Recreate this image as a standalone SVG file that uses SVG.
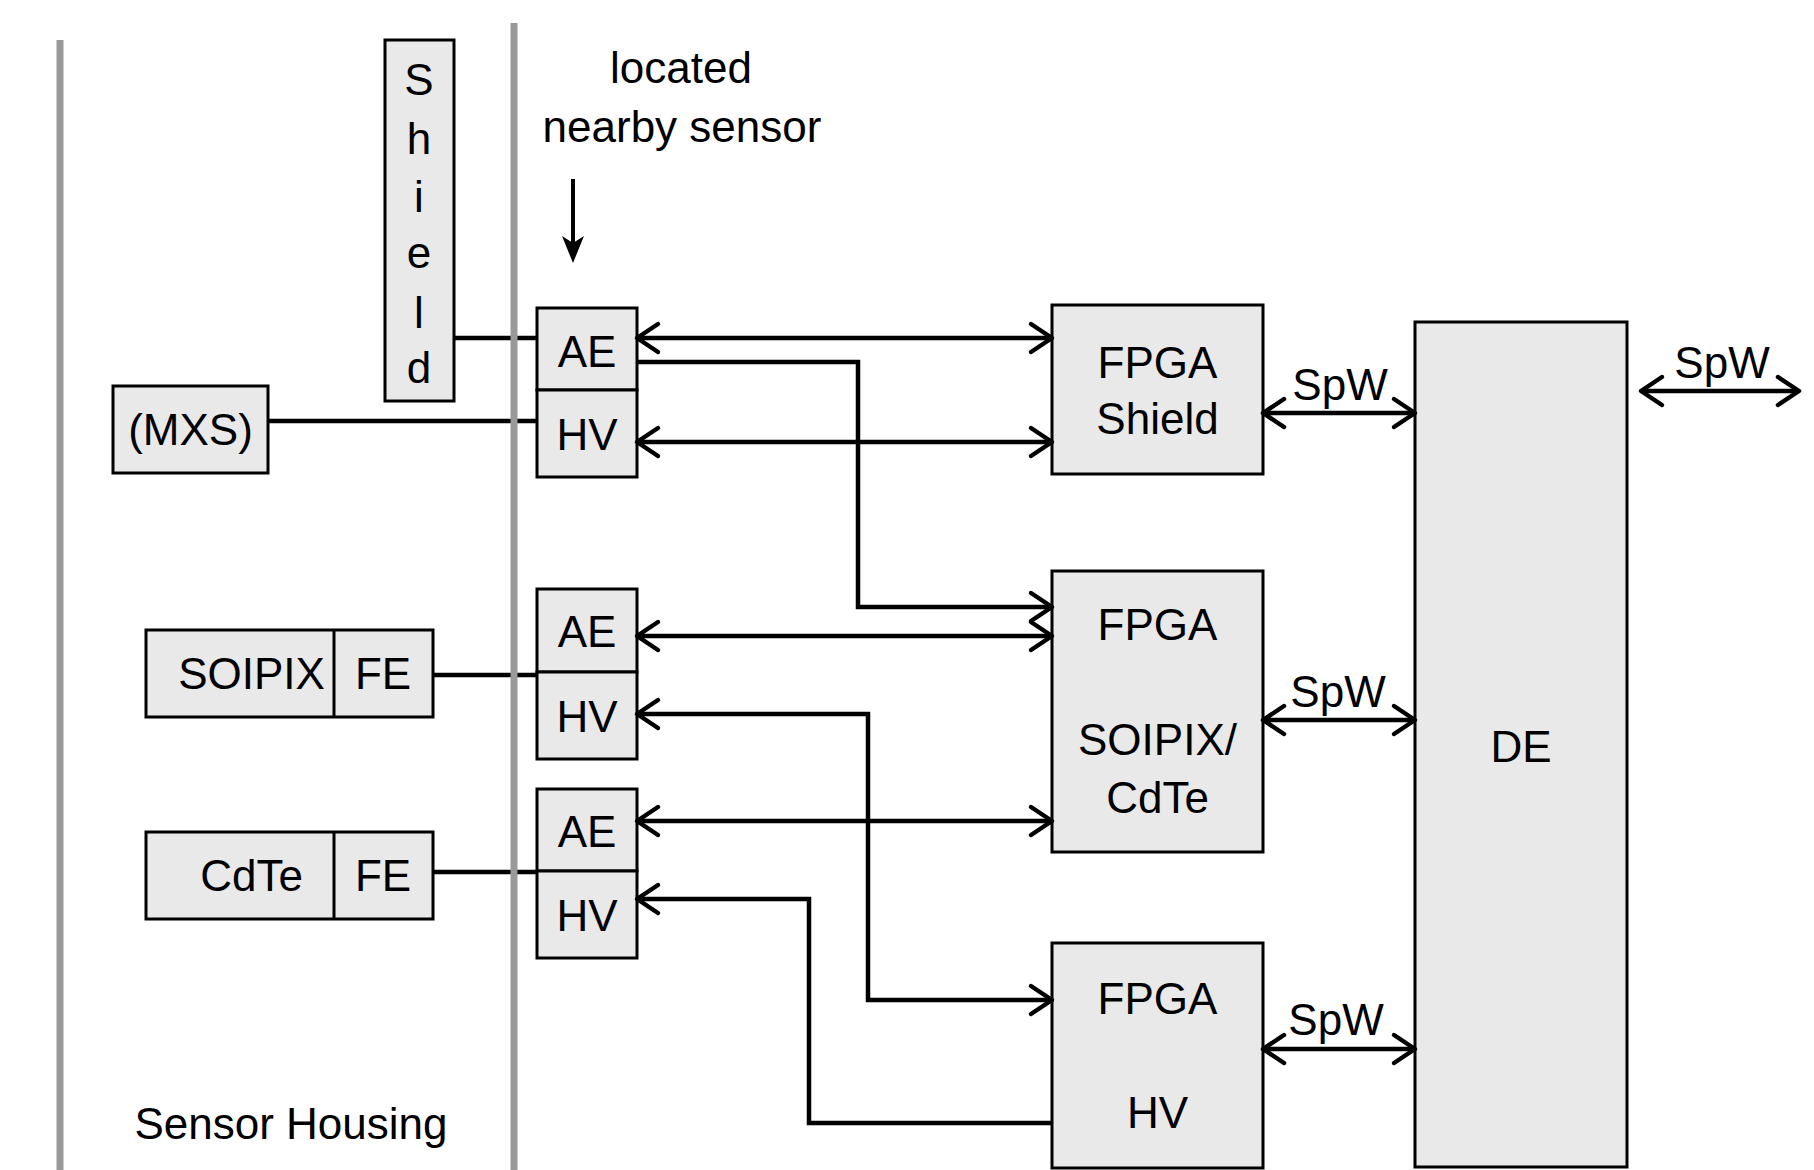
<svg xmlns="http://www.w3.org/2000/svg" width="1814" height="1170" viewBox="0 0 1814 1170">
<style>
.box{fill:#e9e9e9;stroke:#000;stroke-width:3}
.t{font-family:"Liberation Sans",Arial,sans-serif;font-size:44px;fill:#000;text-anchor:middle}
.c{fill:none;stroke:#000;stroke-width:4.5}
.h{fill:none;stroke:#999;stroke-width:7}
</style>
<defs>
<marker id="arr" markerUnits="userSpaceOnUse" viewBox="0 0 30 32" markerWidth="30" markerHeight="32" refX="24" refY="15" orient="auto-start-reverse" overflow="visible">
<path d="M3,1 L24,15 L3,29" fill="none" stroke="#000" stroke-width="4.5" stroke-linecap="round" stroke-linejoin="round"/>
</marker>
</defs>
<rect width="1814" height="1170" fill="#fff"/>

<g id="shield">
<rect class="box" x="385" y="40" width="69" height="361"/>
<text class="t" x="419" y="95">S</text>
<text class="t" x="419" y="154">h</text>
<text class="t" x="419" y="212">i</text>
<text class="t" x="419" y="268">e</text>
<text class="t" x="419" y="328">l</text>
<text class="t" x="419" y="383">d</text>
</g>
<g id="mxs">
<rect class="box" x="113" y="386" width="155" height="87"/>
<text class="t" x="190.5" y="445">(MXS)</text>
</g>
<g id="soipix-fe">
<rect class="box" x="146" y="630" width="287" height="87"/>
<line x1="334" y1="630" x2="334" y2="717" stroke="#000" stroke-width="3"/>
<text class="t" x="251.5" y="689">SOIPIX</text>
<text class="t" x="383" y="689">FE</text>
</g>
<g id="cdte-fe">
<rect class="box" x="146" y="832" width="287" height="87"/>
<line x1="334" y1="832" x2="334" y2="919" stroke="#000" stroke-width="3"/>
<text class="t" x="251.5" y="891">CdTe</text>
<text class="t" x="383" y="891">FE</text>
</g>
<g id="ae1">
<rect class="box" x="537" y="308" width="100" height="82"/>
<text class="t" x="587" y="367">AE</text>
</g>
<g id="hv1">
<rect class="box" x="537" y="390" width="100" height="87"/>
<text class="t" x="587" y="450">HV</text>
</g>
<g id="ae2">
<rect class="box" x="537" y="589" width="100" height="83"/>
<text class="t" x="587" y="647">AE</text>
</g>
<g id="hv2">
<rect class="box" x="537" y="672" width="100" height="87"/>
<text class="t" x="587" y="732">HV</text>
</g>
<g id="ae3">
<rect class="box" x="537" y="789" width="100" height="82"/>
<text class="t" x="587" y="847">AE</text>
</g>
<g id="hv3">
<rect class="box" x="537" y="871" width="100" height="87"/>
<text class="t" x="587" y="931">HV</text>
</g>
<g id="fpga-shield">
<rect class="box" x="1052" y="305" width="211" height="169"/>
<text class="t" x="1157.5" y="378">FPGA</text>
<text class="t" x="1157.5" y="434">Shield</text>
</g>
<g id="fpga-soipix-cdte">
<rect class="box" x="1052" y="571" width="211" height="281"/>
<text class="t" x="1157.5" y="640">FPGA</text>
<text class="t" x="1157.5" y="755">SOIPIX/</text>
<text class="t" x="1157.5" y="813">CdTe</text>
</g>
<g id="fpga-hv">
<rect class="box" x="1052" y="943" width="211" height="225"/>
<text class="t" x="1157.5" y="1014">FPGA</text>
<text class="t" x="1157.5" y="1128">HV</text>
</g>
<g id="de">
<rect class="box" x="1415" y="322" width="212" height="845"/>
<text class="t" x="1521" y="762">DE</text>
</g>
<g id="note">
<text class="t" x="681" y="83">located</text>
<text class="t" x="682" y="142">nearby sensor</text>
<line x1="573" y1="179" x2="573" y2="245" stroke="#000" stroke-width="4"/>
<polygon points="562,236 573,263 584,236 573,243" fill="#000"/>
</g>
<g id="label-housing">
<text class="t" x="291" y="1139">Sensor Housing</text>
</g>

<g id="connectors">
<path class="c" d="M454,338 H537"/>
<path class="c" d="M268,421 H537"/>
<path class="c" d="M433,675 H537"/>
<path class="c" d="M433,872 H537"/>
<path class="c" d="M637,338 H1052" marker-start="url(#arr)" marker-end="url(#arr)"/>
<path class="c" d="M637,442 H1052" marker-start="url(#arr)" marker-end="url(#arr)"/>
<path class="c" d="M637,362 H858 V607 H1052" marker-end="url(#arr)"/>
<path class="c" d="M637,636 H1052" marker-start="url(#arr)" marker-end="url(#arr)"/>
<path class="c" d="M637,821 H1052" marker-start="url(#arr)" marker-end="url(#arr)"/>
<path class="c" d="M637,714 H868 V1000 H1052" marker-start="url(#arr)" marker-end="url(#arr)"/>
<path class="c" d="M637,899 H809 V1123 H1052" marker-start="url(#arr)"/>
<path class="c" d="M1263,413 H1415" marker-start="url(#arr)" marker-end="url(#arr)"/>
<path class="c" d="M1263,720 H1415" marker-start="url(#arr)" marker-end="url(#arr)"/>
<path class="c" d="M1263,1049 H1415" marker-start="url(#arr)" marker-end="url(#arr)"/>
<path class="c" d="M1641,391 H1799" marker-start="url(#arr)" marker-end="url(#arr)"/>
<text class="t" x="1340" y="400">SpW</text>
<text class="t" x="1338" y="707">SpW</text>
<text class="t" x="1336" y="1035">SpW</text>
<text class="t" x="1722" y="378">SpW</text>
</g>

<g id="housing-walls">
<line class="h" x1="60" y1="40" x2="60" y2="1170"/>
<line class="h" x1="514" y1="23" x2="514" y2="1170"/>
</g>
</svg>
